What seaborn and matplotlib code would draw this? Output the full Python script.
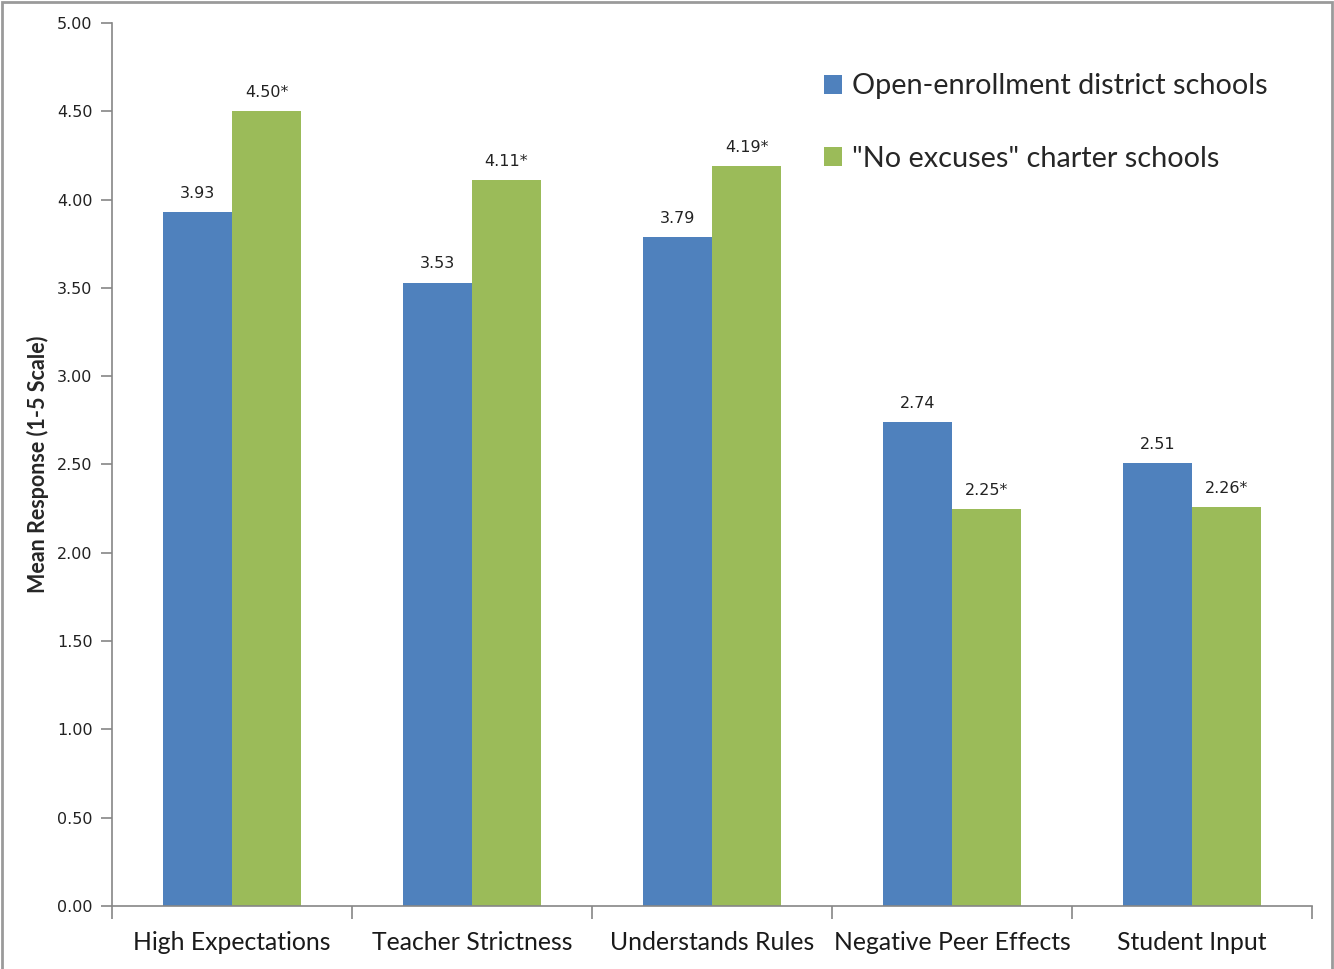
import matplotlib
matplotlib.use("Agg")
import matplotlib.pyplot as plt
import seaborn as sns
import pandas as pd
from matplotlib.patches import Rectangle

# chart data
categories = ["High Expectations", "Teacher Strictness", "Understands Rules",
              "Negative Peer Effects", "Student Input"]
series_names = ["Open-enrollment district schools", "\"No excuses\" charter schools"]
district_vals = [3.93, 3.53, 3.79, 2.74, 2.51]
charter_vals = [4.50, 4.11, 4.19, 2.25, 2.26]
district_labels = ["3.93", "3.53", "3.79", "2.74", "2.51"]
charter_labels = ["4.50*", "4.11*", "4.19*", "2.25*", "2.26*"]
y_ticks = [0.0, 0.5, 1.0, 1.5, 2.0, 2.5, 3.0, 3.5, 4.0, 4.5, 5.0]

colors = ["#4F81BD", "#9BBB59"]

df = pd.DataFrame({
    "category": categories * 2,
    "school": [series_names[0]] * len(categories) + [series_names[1]] * len(categories),
    "value": district_vals + charter_vals,
    "label": district_labels + charter_labels,
})

sns.set_style("white")
plt.rcParams["font.family"] = ["DejaVu Sans"]

fig = plt.figure(figsize=(13.34, 9.69), dpi=100)
ax = fig.add_axes([112 / 1334, 1 - 906 / 969, 1200 / 1334, 883 / 969])

sns.barplot(data=df, x="category", y="value", hue="school", order=categories,
            hue_order=series_names, palette=colors, width=0.575,
            saturation=1, ax=ax, errorbar=None, edgecolor="none")

# value labels above bars
for container, labels in zip(ax.containers, [district_labels, charter_labels]):
    ax.bar_label(container, labels=labels, padding=8, fontsize=11.5, color="#222222")

ax.set_ylim(0, 5)
ax.set_xlim(-0.5, len(categories) - 0.5)
ax.set_yticks(y_ticks)
ax.set_yticklabels([f"{t:.2f}" for t in y_ticks], fontsize=11.5, color="#222222")
ax.tick_params(axis="y", left=True, length=8, width=1.2, color="#868686", pad=6)

# category labels under groups, ticks on the group boundaries
ax.set_xticks(range(len(categories)))
ax.set_xticklabels(categories, family=["Lato", "DejaVu Sans"], fontsize=17.8, color="#1a1a1a")
ax.tick_params(axis="x", which="major", length=0, pad=18)
ax.set_xticks([i - 0.5 for i in range(len(categories) + 1)], minor=True)
ax.tick_params(axis="x", which="minor", bottom=True, length=9, width=1.2,
               color="#868686", direction="out")

for side in ["top", "right"]:
    ax.spines[side].set_visible(False)
for side in ["left", "bottom"]:
    ax.spines[side].set_color("#868686")
    ax.spines[side].set_linewidth(1.2)

ax.set_xlabel("")
ax.set_ylabel("Mean Response (1-5 Scale)", family=["Lato", "DejaVu Sans"],
              fontsize=15.5, fontweight="bold", labelpad=6)

leg = ax.legend(loc="upper left", bbox_to_anchor=(0.584, 0.956), frameon=False,
                prop={"family": ["Lato", "DejaVu Sans"], "size": 20.8},
                handlelength=0.62, handleheight=0.62, handletextpad=0.35,
                labelspacing=1.6, borderaxespad=0)

# gray frame around the figure
fig.patches.append(Rectangle((0.0015, -0.01), 0.997, 1.008, transform=fig.transFigure,
                             fill=False, edgecolor="#9a9a9a", linewidth=2))

fig.savefig("out.png", dpi=100, facecolor="white")
